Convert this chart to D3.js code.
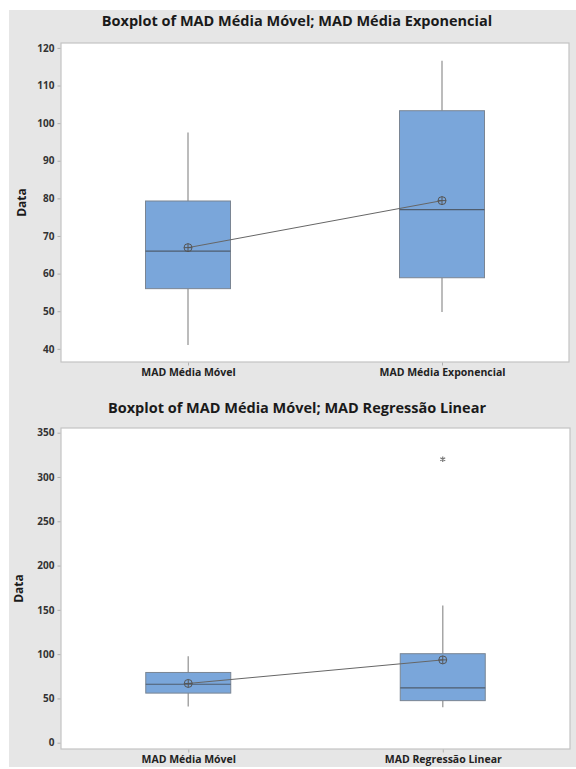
<!DOCTYPE html>
<html>
<head>
<meta charset="utf-8">
<script src="https://cdn.jsdelivr.net/npm/d3@7"></script>
<style>
  html, body { margin: 0; padding: 0; background: #ffffff; }
  svg { display: block; }
  text { font-family: "Open Sans", "Noto Sans", sans-serif; }
</style>
</head>
<body>
<svg id="chart" width="576" height="769"></svg>
<script>
// Summary statistics for each boxplot panel
const topTitle = "Boxplot of MAD Média Móvel; MAD Média Exponencial";
const topCategories = ["MAD Média Móvel", "MAD Média Exponencial"];
const topQ1 = [56.0, 58.9];
const topMedian = [66.0, 77.0];
const topQ3 = [79.3, 103.3];
const topWhiskerLow = [41.0, 49.8];
const topWhiskerHigh = [97.5, 116.6];
const topMean = [66.9, 79.4];
const topOutliers = [[], []];
const topTicks = [40, 50, 60, 70, 80, 90, 100, 110, 120];

const bottomTitle = "Boxplot of MAD Média Móvel; MAD Regressão Linear";
const bottomCategories = ["MAD Média Móvel", "MAD Regressão Linear"];
const bottomQ1 = [56.0, 47.5];
const bottomMedian = [66.0, 62.0];
const bottomQ3 = [79.3, 100.5];
const bottomWhiskerLow = [41.0, 40.0];
const bottomWhiskerHigh = [97.5, 155.0];
const bottomMean = [66.9, 93.5];
const bottomOutliers = [[], [320]];
const bottomTicks = [0, 50, 100, 150, 200, 250, 300, 350];

const svg = d3.select("#chart");

// shared grey backdrop behind both panels
svg.append("rect")
  .attr("x", 9).attr("y", 10).attr("width", 567).attr("height", 757)
  .attr("fill", "#e6e6e6");

function drawPanel(cfg) {
  const g = svg.append("g");
  const { left, right, top, bottom } = cfg.plot;

  const y = d3.scaleLinear().domain(cfg.yDomain).range([bottom, top]);
  const x = d3.scalePoint().domain(cfg.categories).range([left, right]).padding(0.5);

  // title
  g.append("text")
    .attr("x", cfg.titleX).attr("y", cfg.titleY)
    .attr("text-anchor", "middle")
    .attr("font-size", 14.5).attr("font-weight", 700)
    .attr("fill", "#1a1a1a")
    .text(cfg.title);

  // plot area
  g.append("rect")
    .attr("x", left).attr("y", top)
    .attr("width", right - left).attr("height", bottom - top)
    .attr("fill", "#ffffff").attr("stroke", "#c4c4c4").attr("stroke-width", 1.2);

  // y axis
  const yAxis = d3.axisLeft(y).tickValues(cfg.ticks).tickSize(3).tickPadding(3);
  const ya = g.append("g").attr("transform", `translate(${left - 0.5},0)`).call(yAxis);
  ya.select(".domain").remove();
  ya.selectAll(".tick line").attr("stroke", "#b0b0b0");
  ya.selectAll(".tick text")
    .attr("font-size", 10).attr("font-weight", 700)
    .attr("fill", "#333").attr("font-family", "'Open Sans', sans-serif");

  // x axis
  const xAxis = d3.axisBottom(x).tickSize(3).tickPadding(3);
  const xa = g.append("g").attr("transform", `translate(0,${bottom + 0.5})`).call(xAxis);
  xa.select(".domain").remove();
  xa.selectAll(".tick line").attr("stroke", "#b0b0b0");
  xa.selectAll(".tick text")
    .attr("font-size", 10.5).attr("font-weight", 700)
    .attr("fill", "#222").attr("font-family", "'Open Sans', sans-serif");

  // y axis title
  g.append("text")
    .attr("transform", `translate(${cfg.labelX},${(top + bottom) / 2}) rotate(-90)`)
    .attr("text-anchor", "middle")
    .attr("font-size", 12).attr("font-weight", 700)
    .attr("fill", "#1a1a1a")
    .text("Data");

  const boxW = 85;
  const rows = cfg.categories.map((c, i) => ({
    c, q1: cfg.q1[i], med: cfg.median[i], q3: cfg.q3[i],
    lo: cfg.lo[i], hi: cfg.hi[i], mean: cfg.mean[i], out: cfg.out[i]
  }));

  const boxes = g.selectAll(".box").data(rows).join("g").attr("class", "box");

  // whiskers
  boxes.append("line")
    .attr("x1", d => x(d.c)).attr("x2", d => x(d.c))
    .attr("y1", d => y(d.q3)).attr("y2", d => y(d.hi))
    .attr("stroke", "#a6a6a6").attr("stroke-width", 1.5);
  boxes.append("line")
    .attr("x1", d => x(d.c)).attr("x2", d => x(d.c))
    .attr("y1", d => y(d.q1)).attr("y2", d => y(d.lo))
    .attr("stroke", "#a6a6a6").attr("stroke-width", 1.5);

  // interquartile boxes
  boxes.append("rect")
    .attr("x", d => x(d.c) - boxW / 2).attr("width", boxW)
    .attr("y", d => y(d.q3)).attr("height", d => y(d.q1) - y(d.q3))
    .attr("fill", "#7aa6da").attr("stroke", "#7a8593").attr("stroke-width", 1);

  // medians
  boxes.append("line")
    .attr("x1", d => x(d.c) - boxW / 2).attr("x2", d => x(d.c) + boxW / 2)
    .attr("y1", d => y(d.med)).attr("y2", d => y(d.med))
    .attr("stroke", "#4f5d6e").attr("stroke-width", 1.2);

  // outliers
  boxes.each(function(d) {
    d3.select(this).selectAll(".out").data(d.out).join("path")
      .attr("class", "out")
      .attr("transform", v => `translate(${x(d.c)},${y(v)})`)
      .attr("d", d3.symbol(d3.symbolAsterisk, 22))
      .attr("fill", "none").attr("stroke", "#777").attr("stroke-width", 1.2);
  });

  // connect means
  const meanLine = d3.line().x(d => x(d.c)).y(d => y(d.mean));
  g.append("path").datum(rows)
    .attr("d", meanLine)
    .attr("fill", "none").attr("stroke", "#666").attr("stroke-width", 1);

  // mean symbols: circle with crosshair
  const ms = g.selectAll(".mean").data(rows).join("g")
    .attr("class", "mean")
    .attr("transform", d => `translate(${x(d.c)},${y(d.mean)})`);
  ms.append("circle").attr("r", 4).attr("fill", "none").attr("stroke", "#555").attr("stroke-width", 1);
  ms.append("line").attr("x1", -4).attr("x2", 4).attr("stroke", "#555").attr("stroke-width", 1);
  ms.append("line").attr("y1", -4).attr("y2", 4).attr("stroke", "#555").attr("stroke-width", 1);
}

drawPanel({
  title: topTitle, titleX: 297, titleY: 26,
  categories: topCategories,
  q1: topQ1, median: topMedian, q3: topQ3, lo: topWhiskerLow, hi: topWhiskerHigh,
  mean: topMean, out: topOutliers, ticks: topTicks,
  yDomain: [36.5, 121.3],
  plot: { left: 61, right: 569, top: 43, bottom: 362 },
  labelX: 26
});

drawPanel({
  title: bottomTitle, titleX: 297, titleY: 413,
  categories: bottomCategories,
  q1: bottomQ1, median: bottomMedian, q3: bottomQ3, lo: bottomWhiskerLow, hi: bottomWhiskerHigh,
  mean: bottomMean, out: bottomOutliers, ticks: bottomTicks,
  yDomain: [-7.1, 355.3],
  plot: { left: 61, right: 570, top: 428, bottom: 749 },
  labelX: 23
});
</script>
</body>
</html>
